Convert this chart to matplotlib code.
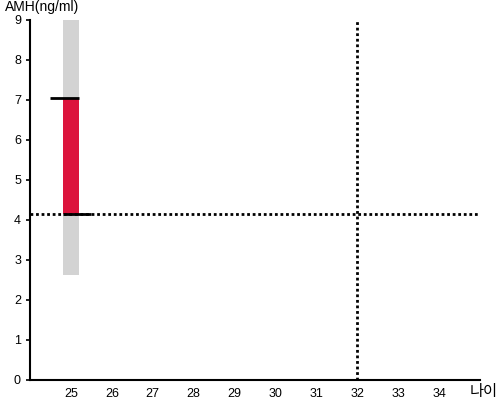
import matplotlib
matplotlib.use('Agg')
import matplotlib.pyplot as plt

plt.rcParams['font.family'] = ['Liberation Sans', 'Noto Sans CJK KR', 'DejaVu Sans']

# data
age = 25
amh_range = (2.62, 9.0)      # grey background range
amh_band = (4.15, 7.05)      # red band
ref_amh = 4.15
ref_age = 32
x_ticks = list(range(25, 35))
y_ticks = list(range(0, 10))

fig = plt.figure(figsize=(5, 4), dpi=100)
ax = fig.add_axes([0.06, 0.05, 0.9, 0.9])

w = 0.4
ax.bar([age], [amh_range[1] - amh_range[0]], bottom=[amh_range[0]], width=w,
       color='#d3d3d3', zorder=1)
ax.bar([age], [amh_band[1] - amh_band[0]], bottom=[amh_band[0]], width=w,
       color='#dc143c', zorder=2)
ax.hlines(amh_band[1], age - w / 2 - 0.3, age + w / 2, color='black', lw=2, zorder=3)
ax.hlines(amh_band[0], age - w / 2, age + w / 2 + 0.3, color='black', lw=2, zorder=3)

ax.axhline(ref_amh, color='black', ls=(0, (1, 1)), lw=2, zorder=4)
ax.axvline(ref_age, color='black', ls=(0, (1, 1)), lw=2, zorder=4)

ax.set_xlim(24, 35)
ax.set_ylim(0, 9)
ax.set_xticks(x_ticks)
ax.set_yticks(y_ticks)
ax.tick_params(axis='x', length=0, labelsize=9, pad=6)
ax.tick_params(axis='y', length=3, labelsize=9, width=1.2)
for s in ['top', 'right']:
    ax.spines[s].set_visible(False)
for s in ['left', 'bottom']:
    ax.spines[s].set_linewidth(1.5)

fig.text(0.01, 0.965, 'AMH(ng/ml)', fontsize=10, ha='left', va='bottom')
fig.text(0.995, 0.02, '나이', fontsize=11, ha='right', va='center')

fig.savefig('out.png')
